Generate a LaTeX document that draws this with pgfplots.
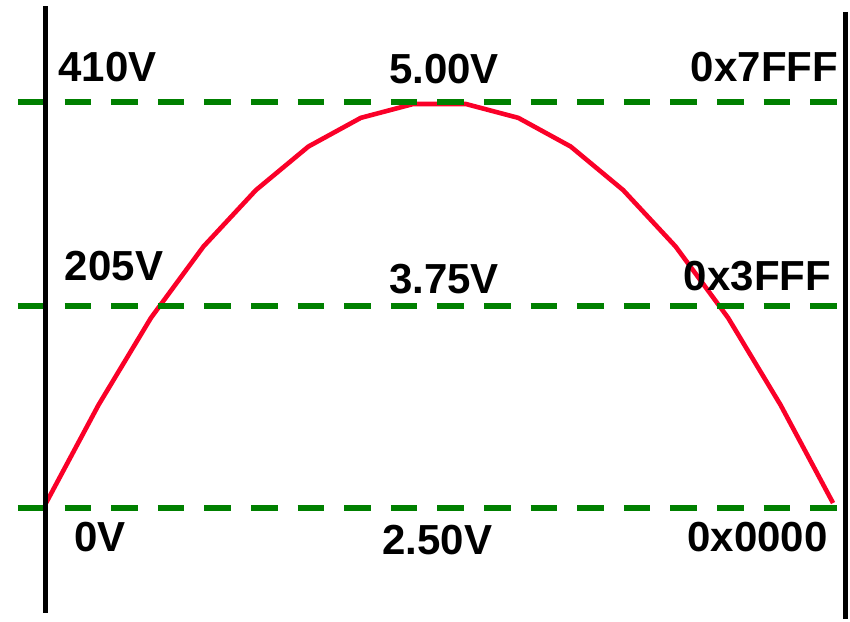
\documentclass[border=0pt]{standalone}
\usepackage{pgfplots}
\pgfplotsset{compat=1.18}
\usepackage{fontspec}
\setmainfont{Liberation Sans}
\definecolor{curvered}{RGB}{250,0,40}
\definecolor{dashgreen}{RGB}{0,128,0}
\tikzset{lbl/.style={font=\fontsize{21}{25}\selectfont\bfseries, inner sep=0pt, anchor=center}}
\begin{document}
\begin{tikzpicture}
\begin{axis}[
  scale only axis, width=425pt, height=309.5pt,
  xmin=-0.877, xmax=15.323, ymin=-112.1, ymax=513.0,
  hide axis, clip=false,
]
% waveform
\addplot[curvered, line width=2.3pt, line join=round] coordinates {
(0,5) (1,104) (2,192) (3,264) (4,321) (5,365) (6,394) (7,408)
(8,408) (9,394) (10,365) (11,321) (12,264) (13,192) (14,104) (15,5)};
% reference levels
\addplot[dashgreen, line width=3.3pt, dash pattern=on 13.3pt off 10pt] coordinates {(-0.534,410) (15.15,410)};
\addplot[dashgreen, line width=3.3pt, dash pattern=on 13.3pt off 10pt] coordinates {(-0.534,204) (15.15,204)};
\addplot[dashgreen, line width=3.3pt, dash pattern=on 13.3pt off 10pt] coordinates {(-0.534,0) (15.15,0)};
% vertical bounds
\addplot[black, line width=2.5pt] coordinates {(-0.019,506.9) (-0.019,-106.0)};
\addplot[black, line width=2.5pt] coordinates {(15.228,500.9) (15.228,-112.1)};
% labels
\node[lbl] at (axis cs:1.172,444.8) {410V};
\node[lbl] at (axis cs:7.585,443.3) {5.00V};
\node[lbl] at (axis cs:13.693,444.8) {0x7FFF};
\node[lbl] at (axis cs:1.296,244.4) {205V};
\node[lbl] at (axis cs:7.585,231.3) {3.75V};
\node[lbl] at (axis cs:13.560,234.3) {0x3FFF};
\node[lbl] at (axis cs:1.029,-29.3) {0V};
\node[lbl] at (axis cs:7.461,-32.3) {2.50V};
\node[lbl] at (axis cs:13.560,-29.3) {0x0000};
\end{axis}
\useasboundingbox (current axis.south west) rectangle (current axis.north east);
\end{tikzpicture}
\end{document}
